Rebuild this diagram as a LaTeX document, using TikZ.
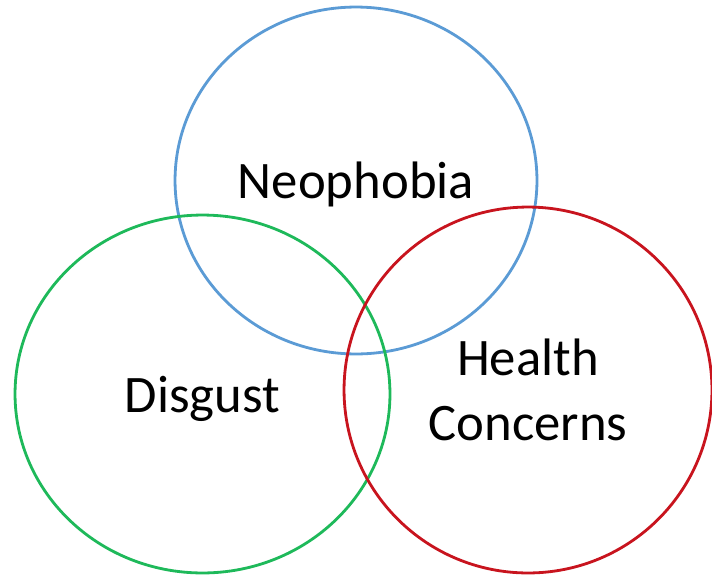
\documentclass[tikz,border=0pt]{standalone}
\usepackage{fontspec}
\setmainfont{Carlito}
\usepackage{tikz}
\usetikzlibrary{shapes.geometric}
\definecolor{neoblue}{RGB}{91,155,213}
\definecolor{disgreen}{RGB}{30,185,90}
\definecolor{healred}{RGB}{200,20,30}

\begin{document}
\begin{tikzpicture}
  [x=0.02cm,y=-0.02cm,
   every node/.style={ellipse,draw,line width=1.6pt,inner sep=0pt,align=center,
     font=\fontsize{30}{37}\selectfont}]
  \useasboundingbox (0,0) rectangle (712,575);
  \node (neo) at (356,180.5) [draw=neoblue,minimum width=7.24cm,minimum height=6.94cm,text depth=0pt] {Neophobia};
  \node (dis) at (202.5,394) [draw=disgreen,minimum width=7.5cm,minimum height=7.16cm,text depth=0pt] {Disgust};
  \node (hea) at (528,390)  [draw=healred,minimum width=7.36cm,minimum height=7.32cm] {Health\\Concerns};
\end{tikzpicture}
\end{document}
